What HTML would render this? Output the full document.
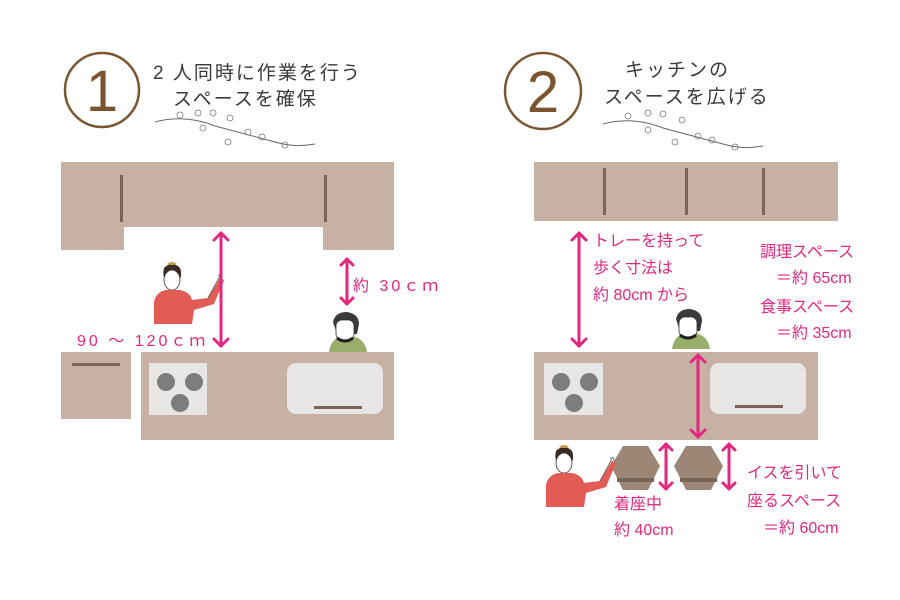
<!DOCTYPE html>
<html><head><meta charset="utf-8"><style>
html,body{margin:0;padding:0;background:#fff;}
svg{display:block;}
text{font-family:"Liberation Sans","Noto Sans CJK JP",sans-serif;}
.p{fill:#e0287e;font-size:16px;}
.t{fill:#3a3a3a;font-size:19px;letter-spacing:2px;}
</style></head><body>
<svg width="900" height="600" viewBox="0 0 900 600" xmlns="http://www.w3.org/2000/svg">
<defs>
<g id="woman">
  <path d="M14 6 q8 -8 16 0 q3 8 -2 14 q-6 3 -12 0 q-4 -6 -2 -14z" fill="#3a2a22"/>
  <ellipse cx="22" cy="18" rx="8" ry="10" fill="#fff" stroke="#333" stroke-width="0.8"/>
  <path d="M17 2 q5 -4 10 0 q-5 2 -10 0z" fill="#c9a24a"/>
  <path d="M4 62 L4 40 q2 -10 12 -12 l14 0 q10 2 12 10 l16 -2 l12 -20 l4 2 l-10 24 l-20 6 l-2 14 z" fill="#e25c55"/>
  <path d="M58 36 l12 -22 M68 14 q4 -4 4 2" stroke="#555" fill="none" stroke-width="0.8"/>
</g>
<g id="man">
  <path d="M8 40 q2 -14 14 -16 l8 0 q14 2 16 16z" fill="#9aae6c"/>
  <path d="M12 10 q2 -10 14 -10 q12 2 12 12 l-2 10 l-20 0 z" fill="#3b3a38"/>
  <rect x="15" y="8" width="18" height="20" rx="6" fill="#fff" stroke="#333" stroke-width="0.8"/>
  <path d="M16 26 q8 6 16 0" stroke="#222" stroke-width="3" fill="none"/>
</g>
<g id="chair">
  <polygon points="12,0 37,0 49,20 37,44 12,44 0,20" fill="#9c8777"/>
  <rect x="6" y="32" width="37" height="4" fill="#7a6656"/>
</g>
</defs>

<!-- Panel 1 -->
<circle cx="102" cy="90" r="37" fill="none" stroke="#7b5530" stroke-width="2.5"/>
<text x="102" y="111" text-anchor="middle" font-size="58" fill="#7b5530" font-weight="300">1</text>
<text class="t" x="153" y="79">2 人同時に作業を行う</text>
<text class="t" x="173" y="105">スペースを確保</text>
<path d="M155 122 q30 -8 60 4 q30 8 60 16 q20 6 40 2" stroke="#666" fill="none" stroke-width="1"/>
<g fill="none" stroke="#777" stroke-width="0.8">
<circle cx="180" cy="115" r="3"/><circle cx="198" cy="113" r="3"/><circle cx="213" cy="113" r="3"/><circle cx="230" cy="118" r="3"/><circle cx="248" cy="132" r="3"/><circle cx="262" cy="137" r="3"/><circle cx="285" cy="145" r="3"/><circle cx="203" cy="128" r="3"/><circle cx="228" cy="142" r="3"/>
</g>

<path d="M61 162 H394 V250 H323 V227 H124 V250 H61 Z" fill="#c7b0a4"/>
<rect x="120" y="175" width="3" height="47" fill="#7a6558"/>
<rect x="324" y="175" width="3" height="47" fill="#7a6558"/>

<use href="#woman" x="150" y="262"/>
<use href="#man" x="321" y="312"/>

<rect x="61" y="352" width="70" height="67" fill="#c7b0a4"/>
<rect x="72" y="363" width="48" height="3" fill="#7a6558"/>
<rect x="141" y="352" width="253" height="88" fill="#c7b0a4"/>
<rect x="149" y="363" width="58" height="52" fill="#e8e6e4"/>
<circle cx="166" cy="382" r="9" fill="#7d7d7d"/><circle cx="194" cy="382" r="9" fill="#7d7d7d"/><circle cx="180" cy="403" r="9" fill="#7d7d7d"/>
<rect x="287" y="363" width="96" height="51" rx="9" fill="#e8e6e4"/>
<rect x="314" y="406" width="48" height="3" fill="#7a6558"/>

<g stroke="#e0287e" stroke-width="3" fill="none" stroke-linecap="round" stroke-linejoin="round">
<line x1="221" y1="233" x2="221" y2="346"/><polyline points="214,240 221,233 228,240"/><polyline points="214,339 221,346 228,339"/>
<line x1="347" y1="259" x2="347" y2="304"/><polyline points="341,265 347,259 353,265"/><polyline points="341,298 347,304 353,298"/>
<line x1="579" y1="233" x2="579" y2="346"/><polyline points="572,240 579,233 586,240"/><polyline points="572,339 579,346 586,339"/>
<line x1="666" y1="444" x2="666" y2="489"/><polyline points="660,450 666,444 672,450"/><polyline points="660,483 666,489 672,483"/>
<line x1="729" y1="444" x2="729" y2="489"/><polyline points="723,450 729,444 735,450"/><polyline points="723,483 729,489 735,483"/>
</g>
<text class="p" x="353" y="291" font-size="18" letter-spacing="3">約 30ｃｍ</text>
<text class="p" x="77" y="346" font-size="18" letter-spacing="3">90 ～ 120ｃｍ</text>

<!-- Panel 2 -->
<circle cx="543" cy="91" r="38" fill="none" stroke="#7b5530" stroke-width="2.5"/>
<text x="543" y="112" text-anchor="middle" font-size="58" fill="#7b5530" font-weight="300">2</text>
<text class="t" x="625" y="76">キッチンの</text>
<text class="t" x="604" y="103">スペースを広げる</text>
<path d="M603 124 q30 -8 60 4 q30 8 60 16 q20 6 40 2" stroke="#666" fill="none" stroke-width="1"/>
<g fill="none" stroke="#777" stroke-width="0.8">
<circle cx="628" cy="116" r="3"/><circle cx="648" cy="113" r="3"/><circle cx="663" cy="114" r="3"/><circle cx="682" cy="120" r="3"/><circle cx="698" cy="136" r="3"/><circle cx="712" cy="140" r="3"/><circle cx="735" cy="147" r="3"/><circle cx="648" cy="130" r="3"/><circle cx="675" cy="142" r="3"/>
</g>

<rect x="534" y="162" width="304" height="59" fill="#c7b0a4"/>
<rect x="603" y="168" width="3" height="47" fill="#7a6558"/>
<rect x="685" y="168" width="3" height="47" fill="#7a6558"/>
<rect x="762" y="168" width="3" height="47" fill="#7a6558"/>

<use href="#man" x="664" y="309"/>
<rect x="534" y="352" width="284" height="88" fill="#c7b0a4"/>
<rect x="544" y="363" width="59" height="52" fill="#e8e6e4"/>
<circle cx="561" cy="382" r="9" fill="#7d7d7d"/><circle cx="589" cy="382" r="9" fill="#7d7d7d"/><circle cx="574" cy="403" r="9" fill="#7d7d7d"/>
<rect x="710" y="363" width="96" height="51" rx="9" fill="#e8e6e4"/>
<rect x="735" y="405" width="48" height="3" fill="#7a6558"/>
<g stroke="#e0287e" stroke-width="3" fill="none" stroke-linecap="round" stroke-linejoin="round">
<line x1="698" y1="355" x2="698" y2="437"/><polyline points="691,362 698,355 705,362"/><polyline points="691,430 698,437 705,430"/>
</g>

<use href="#chair" x="611" y="446"/>
<use href="#chair" x="674" y="446"/>
<use href="#woman" x="542" y="445"/>

<text class="p" x="593" y="246">トレーを持って</text>
<text class="p" x="593" y="273">歩く寸法は</text>
<text class="p" x="593" y="300">約 80cm から</text>
<text class="p" x="760" y="257">調理スペース</text>
<text class="p" x="776" y="283">＝約 65cm</text>
<text class="p" x="760" y="312">食事スペース</text>
<text class="p" x="776" y="338">＝約 35cm</text>
<text class="p" x="614" y="509">着座中</text>
<text class="p" x="614" y="535">約 40cm</text>
<text class="p" x="747" y="478">イスを引いて</text>
<text class="p" x="747" y="506">座るスペース</text>
<text class="p" x="763" y="533">＝約 60cm</text>
</svg>
</body></html>
